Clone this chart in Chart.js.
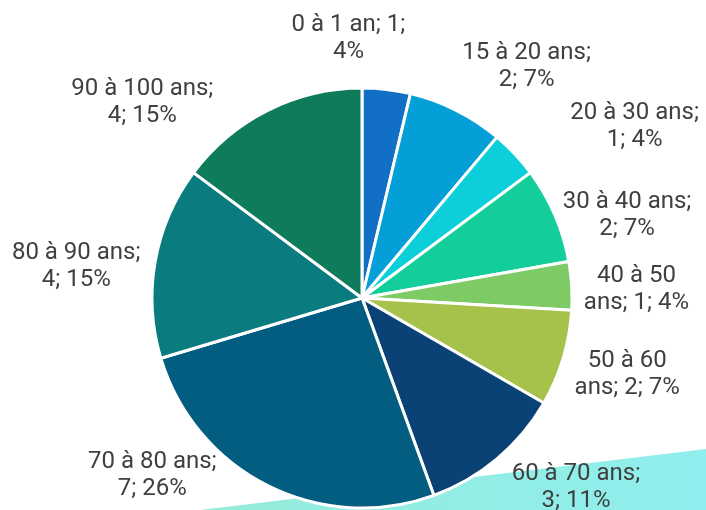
<!DOCTYPE html>
<html lang="fr">
<head>
  <meta charset="utf-8">
  <script src="https://cdn.jsdelivr.net/npm/chart.js"></script>
</head>
<style>
  html, body {
    margin: 0;
    padding: 0;
    background-color: #fff;
  }
  #wrap {
    width: 706px;
    height: 510px;
    position: relative;
  }
</style>
<body>
  <div id="wrap">
    <canvas id="ageChart" width="706" height="510"></canvas>
  </div>

  <script>
    // Tranches d'âge et effectifs
    var tranches = [
      '0 à 1 an', '15 à 20 ans', '20 à 30 ans', '30 à 40 ans', '40 à 50 ans',
      '50 à 60 ans', '60 à 70 ans', '70 à 80 ans', '80 à 90 ans', '90 à 100 ans'
    ];
    var effectifs = [1, 2, 1, 2, 1, 2, 3, 7, 4, 4];
    var couleurs = [
      '#1170C6', '#049FD6', '#0CCFD9', '#13CE9A', '#7ECA64',
      '#A7C24B', '#0B4276', '#025D81', '#0A7B7F', '#0E7B5A'
    ];

    // nombre de mots sur la 1re ligne de chaque étiquette
    var motsLigne1 = [5, 4, 4, 4, 3, 3, 4, 4, 4, 4];
    // décalage des étiquettes par rapport à leur position radiale
    var decalages = [
      [-46, 16], [39, 16], [69, 18], [8, 26], [-5, 5],
      [-3, -6], [34, -27], [-84, -75], [-10, 15], [-94, 52]
    ];

    // forme décorative turquoise derrière le graphique
    var fondPlugin = {
      id: 'fond',
      beforeDraw: function(chart) {
        var ctx = chart.ctx;
        ctx.save();
        var grad = ctx.createLinearGradient(200, 0, 706, 0);
        grad.addColorStop(0, '#96ECDA');
        grad.addColorStop(1, '#8FEEEE');
        ctx.fillStyle = grad;
        ctx.beginPath();
        ctx.moveTo(200, 510);
        ctx.lineTo(706, 449);
        ctx.lineTo(706, 510);
        ctx.closePath();
        ctx.fill();
        ctx.restore();
      }
    };

    // étiquettes "catégorie; valeur; pourcentage"
    var etiquettesPlugin = {
      id: 'etiquettes',
      afterDatasetsDraw: function(chart) {
        var ctx = chart.ctx;
        var meta = chart.getDatasetMeta(0);
        var total = effectifs.reduce(function(a, b) { return a + b; }, 0);
        ctx.save();
        ctx.font = '24px Roboto';
        ctx.fillStyle = '#404040';
        ctx.textAlign = 'center';
        ctx.textBaseline = 'alphabetic';
        meta.data.forEach(function(arc, i) {
          var pct = Math.round(effectifs[i] / total * 100);
          var mots = (tranches[i] + '; ' + effectifs[i] + '; ' + pct + '%').split(' ');
          var lignes = [mots.slice(0, motsLigne1[i]).join(' '), mots.slice(motsLigne1[i]).join(' ')];
          var mid = (arc.startAngle + arc.endAngle) / 2;
          var r = arc.outerRadius + 70;
          var cx = arc.x + Math.cos(mid) * r + decalages[i][0];
          var cy = arc.y + Math.sin(mid) * r + decalages[i][1];
          lignes.forEach(function(txt, k) {
            var y = cy + (k - (lignes.length - 1) / 2) * 27 + 8.5;
            ctx.fillText(txt, cx, y);
          });
        });
        ctx.restore();
      }
    };

    var ctx = document.getElementById('ageChart').getContext('2d');
    var ageChart = new Chart(ctx, {
      type: 'pie',
      data: {
        labels: tranches,
        datasets: [{
          data: effectifs,
          backgroundColor: couleurs,
          borderColor: '#ffffff',
          borderWidth: 3
        }]
      },
      options: {
        responsive: false,
        animation: false,
        layout: {
          padding: { left: 150.5, right: 132.5, top: 86.5, bottom: 0.5 }
        },
        plugins: {
          legend: { display: false },
          tooltip: { enabled: false }
        }
      },
      plugins: [fondPlugin, etiquettesPlugin]
    });
  </script>
</body>
</html>
